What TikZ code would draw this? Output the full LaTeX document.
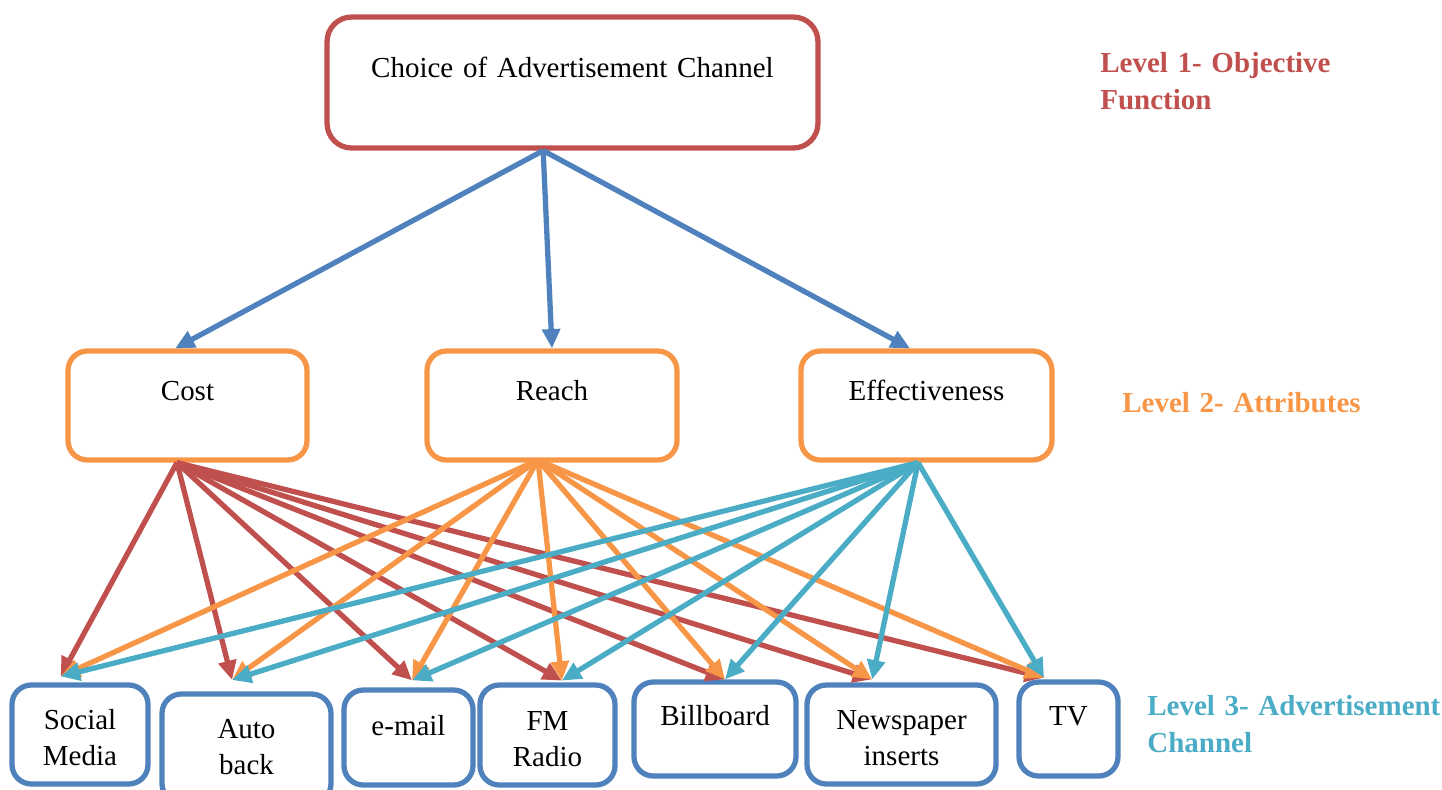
\documentclass[tikz,border=0pt]{standalone}
\usepackage{fontspec}
\setmainfont{Liberation Serif}
\usetikzlibrary{arrows.meta}

\definecolor{lvlred}{HTML}{C0504D}
\definecolor{lvlorange}{HTML}{F79646}
\definecolor{lvlblue}{HTML}{4F81BD}
\definecolor{lvlteal}{HTML}{4BACC6}

\tikzset{
  box/.style={draw, rounded corners=11pt, line width=3pt, inner xsep=2pt, inner ysep=0pt,
    align=center, anchor=base, font=\fontsize{16.5}{21}\selectfont},
  objbox/.style={box, draw=lvlred, rounded corners=14pt, text height=1.2cm, text depth=1.42cm},
  attrbox/.style={box, draw=lvlorange, text height=0.98cm, text depth=1.2cm},
  chanbox/.style={box, draw=lvlblue},
  link/.style={line width=3pt, -{Triangle[length=11pt,width=10pt]}},
  lvltext/.style={font=\fontsize{16.5}{21.5}\selectfont\bfseries, anchor=base west,
    inner sep=0pt, align=left, text width=6.5cm},
}

\begin{document}
\begin{tikzpicture}[x=0.02cm, y=-0.02cm]
            \useasboundingbox (0, 0) rectangle (1442, 789);

            % level 1
            \node[objbox, text width=9.68cm] (choice) at (572.5, 77) {Choice of Advertisement Channel};

            % level 2
            \node[attrbox, text width=4.64cm] (cost) at (187.5, 400) {Cost};
            \node[attrbox, text width=4.86cm] (reach) at (552, 400) {Reach};
            \node[attrbox, text width=4.88cm] (eff) at (926.5, 400) {Effectiveness};

            % level 3
            \node[chanbox, text width=2.58cm, text height=0.88cm, text depth=1.1cm] (sm) at (80, 729) {Social\\Media};
            \node[chanbox, text width=3.24cm, text height=0.88cm, text depth=1.3cm] (ab) at (246.5, 738) {Auto\\back};
            \node[chanbox, text width=2.44cm, text height=0.9cm, text depth=1.0cm] (em) at (408.5, 735) {e-mail};
            \node[chanbox, text width=2.56cm, text height=0.9cm, text depth=1.1cm] (fm) at (547.5, 730) {FM\\Radio};
            \node[chanbox, text width=3.1cm, text height=0.86cm, text depth=1.02cm] (bb) at (715, 725) {Billboard};
            \node[chanbox, text width=3.64cm, text height=0.88cm, text depth=1.1cm] (np) at (901.5, 729) {Newspaper\\inserts};
            \node[chanbox, text width=1.84cm, text height=0.86cm, text depth=1.02cm] (tv) at (1068.5, 725) {TV};

            \node[lvltext, text=lvlred] (lvl1) at (1100, 72) {Level 1- Objective\\Function};
            \node[lvltext, text=lvlorange] (lvl2) at (1122, 412) {Level 2- Attributes};
            \node[lvltext, text=lvlteal] (lvl3) at (1147, 715) {Level 3- Advertisement\\Channel};

            % where the arrows leave and meet the boxes
            \coordinate (choice-out) at ([xshift=-16.7pt]choice.south);
            \coordinate (cost-in) at ([xshift=-7pt]cost.north);
            \coordinate (reach-in) at (reach.north);
            \coordinate (eff-in) at ([xshift=-9.4pt]eff.north);
            \coordinate (cost-out) at ([xshift=-6pt]cost.south);
            \coordinate (reach-out) at ([xshift=-8pt,yshift=1.5pt]reach.south);
            \coordinate (eff-out) at ([xshift=-4.8pt]eff.south);
            \coordinate (sm-in) at ([xshift=-11pt,yshift=3.4pt]sm.north);
            \coordinate (ab-in) at ([xshift=-8.2pt,yshift=6.5pt]ab.north);
            \coordinate (em-in) at ([xshift=2pt,yshift=4pt]em.north);
            \coordinate (fm-in) at ([xshift=8.2pt,yshift=1pt]fm.north);
            \coordinate (bb-in) at ([xshift=5.7pt]bb.north);
            \coordinate (np-in) at ([xshift=-16.7pt,yshift=1.7pt]np.north);
            \coordinate (tv-in) at ([xshift=-13.9pt,yshift=1pt]tv.north);

            \draw[link, lvlblue] (choice-out) -- (cost-in);
            \draw[link, lvlblue] (choice-out) -- (reach-in);
            \draw[link, lvlblue] (choice-out) -- (eff-in);

            \draw[link, lvlred] (cost-out) -- (sm-in);
            \draw[link, lvlred] (cost-out) -- (ab-in);
            \draw[link, lvlred] (cost-out) -- (em-in);
            \draw[link, lvlred] (cost-out) -- (fm-in);
            \draw[link, lvlred] (cost-out) -- (bb-in);
            \draw[link, lvlred] (cost-out) -- (np-in);
            \draw[link, lvlred] (cost-out) -- (tv-in);

            \draw[link, lvlorange] (reach-out) -- (sm-in);
            \draw[link, lvlorange] (reach-out) -- (ab-in);
            \draw[link, lvlorange] (reach-out) -- (em-in);
            \draw[link, lvlorange] (reach-out) -- (fm-in);
            \draw[link, lvlorange] (reach-out) -- (bb-in);
            \draw[link, lvlorange] (reach-out) -- (np-in);
            \draw[link, lvlorange] (reach-out) -- (tv-in);

            \draw[link, lvlteal] (eff-out) -- (sm-in);
            \draw[link, lvlteal] (eff-out) -- (ab-in);
            \draw[link, lvlteal] (eff-out) -- (em-in);
            \draw[link, lvlteal] (eff-out) -- (fm-in);
            \draw[link, lvlteal] (eff-out) -- (bb-in);
            \draw[link, lvlteal] (eff-out) -- (np-in);
            \draw[link, lvlteal] (eff-out) -- (tv-in);
        \end{tikzpicture}
\end{document}
